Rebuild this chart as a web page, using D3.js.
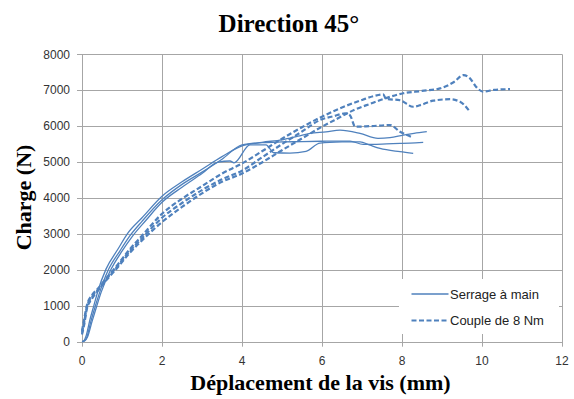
<!DOCTYPE html>
<html><head><meta charset="utf-8">
<script src="https://cdn.jsdelivr.net/npm/d3@7"></script>
<style>body{margin:0;background:#fff}svg{display:block}</style>
</head><body>
<svg id="c" width="574" height="399"></svg>
<script>
// ---- data ----
const xTicks = [0, 2, 4, 6, 8, 10, 12];
const yTicks = [0, 1000, 2000, 3000, 4000, 5000, 6000, 7000, 8000];
const seriesNames = ["Serrage à main", "Couple de 8 Nm"];

const s1X = [0,0.05,0.1,0.2,0.3,0.4,0.6,0.9,1.15,1.5,2,2.5,3,3.5,4,4.5,5,5.4,5.7,6.1,6.45,6.95,7.4,7.7,8.03,8.3,8.62];
const s1Y = [0,30,150,620,1020,1420,2020,2580,3030,3450,4050,4450,4800,5150,5450,5550,5620,5720,5800,5840,5890,5800,5660,5680,5750,5800,5845];
const s2X = [0,0.06,0.12,0.22,0.33,0.45,0.65,0.95,1.2,1.5,2,2.5,3,3.5,4,4.5,5,5.5,6,6.7,7.03,7.5,7.95,8.2,8.53];
const s2Y = [0,20,120,560,980,1400,1980,2530,2950,3350,3950,4380,4720,5080,5480,5540,5560,5570,5580,5585,5490,5500,5520,5530,5550];
const s3X = [0,0.07,0.14,0.25,0.36,0.48,0.7,1.0,1.25,1.6,2,2.5,3,3.4,3.7,3.8,4.2,4.6,4.8,5.2,5.6,5.95,6.5,6.95,7.2,7.45,7.95,8.28];
const s3Y = [0,30,140,560,960,1380,1960,2520,2920,3380,3880,4300,4680,5000,5030,4980,5480,5480,5260,5250,5300,5530,5560,5565,5470,5380,5290,5245];

const d1X = [0,0.05,0.12,0.25,0.4,0.6,0.8,1.2,1.5,2,2.5,3,3.5,4,4.5,5,5.5,6,6.4,6.8,7.2,7.6,8.03,8.5,8.95,9.3,9.53,9.7,9.85,10.03,10.3,10.7];
const d1Y = [200,450,900,1200,1420,1700,1950,2480,2820,3330,3750,4130,4450,4680,4990,5330,5660,5985,6220,6450,6620,6780,6915,6980,7050,7230,7420,7330,7100,6960,7010,7030];
const d2X = [0,0.05,0.12,0.25,0.4,0.6,0.8,1.2,1.5,2,2.5,3,3.5,4,4.5,5,5.5,6,6.5,7,7.3,7.53,7.6,7.95,8.28,8.5,8.78,9.2,9.45,9.7];
const d2Y = [300,600,1000,1300,1480,1760,2020,2580,2950,3560,3980,4330,4680,4960,5300,5650,5970,6265,6520,6730,6840,6885,6760,6720,6540,6600,6710,6750,6680,6400];
const d3X = [0,0.05,0.12,0.25,0.4,0.6,0.8,1.2,1.5,2,2.5,3,3.5,4,4.5,5,5.5,5.95,6.3,6.58,6.7,6.83,7.2,7.7,7.95,8.24];
const d3Y = [250,520,950,1250,1450,1730,1990,2530,2880,3450,3860,4220,4520,4760,5130,5500,5850,6170,6280,6355,6300,5985,6000,6030,5845,5700];

// ---- chart ----
const svg = d3.select("#c");
const L = 82, R = 562, T = 54.3, B = 341.7;
const x = d3.scaleLinear().domain([0, 12]).range([L, R]);
const y = d3.scaleLinear().domain([0, 8000]).range([B, T]);
const grid = "#a6a6a6";
const blue = "#4f81bd";

// horizontal grid + y ticks
svg.append("g").selectAll("line").data(yTicks).join("line")
  .attr("x1", L - 5).attr("x2", R)
  .attr("y1", d => Math.round(y(d)) + 0.5).attr("y2", d => Math.round(y(d)) + 0.5)
  .attr("stroke", grid).attr("stroke-width", 1);
// vertical grid + x ticks
svg.append("g").selectAll("line").data(xTicks).join("line")
  .attr("y1", T).attr("y2", B + 5)
  .attr("x1", d => Math.round(x(d)) + 0.5).attr("x2", d => Math.round(x(d)) + 0.5)
  .attr("stroke", grid).attr("stroke-width", 1);

// tick labels
svg.append("g").selectAll("text").data(yTicks).join("text")
  .attr("x", 70).attr("y", d => y(d)).attr("dy", "0.35em")
  .attr("text-anchor", "end")
  .style("font", "12px 'Liberation Sans', Arial, sans-serif").attr("fill", "#333")
  .text(d => d);
svg.append("g").selectAll("text").data(xTicks).join("text")
  .attr("x", d => x(d)).attr("y", 365)
  .attr("text-anchor", "middle")
  .style("font", "12px 'Liberation Sans', Arial, sans-serif").attr("fill", "#333")
  .text(d => d);

// curves
const line = d3.line().x(d => x(d[0])).y(d => y(d[1])).curve(d3.curveMonotoneX);
const zip = (a, b) => a.map((v, i) => [v, b[i]]);
const solids = [zip(s1X, s1Y), zip(s2X, s2Y), zip(s3X, s3Y)];
const dashes = [zip(d1X, d1Y), zip(d2X, d2Y), zip(d3X, d3Y)];
svg.append("g").selectAll("path").data(solids).join("path")
  .attr("d", line).attr("fill", "none").attr("stroke", blue).attr("stroke-width", 1.3);
svg.append("g").selectAll("path").data(dashes).join("path")
  .attr("d", line).attr("fill", "none").attr("stroke", blue).attr("stroke-width", 2.2)
  .attr("stroke-dasharray", "5,2.5");

// legend
const lg = svg.append("g");
lg.append("rect").attr("x", 399).attr("y", 279).attr("width", 160).attr("height", 55).attr("fill", "#fff");
const ly = [294, 320.5];
seriesNames.forEach((n, i) => {
  lg.append("line").attr("x1", 411.5).attr("x2", 448.5).attr("y1", ly[i]).attr("y2", ly[i])
    .attr("stroke", blue).attr("stroke-width", i ? 2.2 : 1.3)
    .attr("stroke-dasharray", i ? "5,2.5" : null);
  lg.append("text").attr("x", 450).attr("y", ly[i] + 4.5)
    .style("font", "13px 'Liberation Sans', Arial, sans-serif").attr("fill", "#222").text(n);
});

// titles
svg.append("text").attr("x", 289).attr("y", 31.7).attr("text-anchor", "middle")
  .style("font", "bold 25px 'Liberation Serif', 'Times New Roman', serif").text("Direction 45°");
svg.append("text").attr("x", 320.5).attr("y", 390).attr("text-anchor", "middle")
  .style("font", "bold 22px 'Liberation Serif', 'Times New Roman', serif").text("Déplacement de la vis (mm)");
svg.append("text").attr("transform", "translate(31,197.5) rotate(-90)").attr("text-anchor", "middle")
  .style("font", "bold 22px 'Liberation Serif', 'Times New Roman', serif").text("Charge (N)");
</script>
</body></html>
